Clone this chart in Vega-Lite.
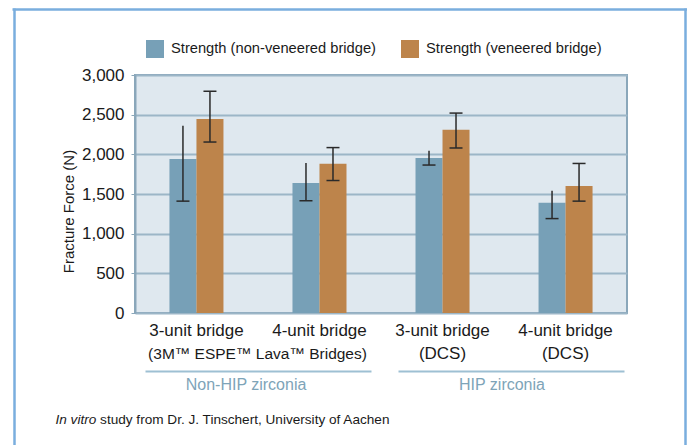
{
  "$schema": "https://vega.github.io/schema/vega-lite/v6.json",
  "width": 492,
  "height": 238,
  "autosize": "none",
  "padding": {"left": 135, "top": 75, "right": 60, "bottom": 132},
  "background": "white",
  "config": {
    "font": "Liberation Sans, Arial, sans-serif",
    "view": {"fill": "#dfe8ef", "stroke": "#8aa7ba", "strokeWidth": 2}
  },
  "data": {
    "values": [
      {"bridge": "3-unit bridge", "group": "Non-HIP zirconia", "series": "Strength (non-veneered bridge)", "value": 1940, "lo": 1410, "hi": 2360},
      {"bridge": "3-unit bridge", "group": "Non-HIP zirconia", "series": "Strength (veneered bridge)", "value": 2445, "lo": 2155, "hi": 2795},
      {"bridge": "4-unit bridge", "group": "Non-HIP zirconia", "series": "Strength (non-veneered bridge)", "value": 1640, "lo": 1415, "hi": 1890},
      {"bridge": "4-unit bridge", "group": "Non-HIP zirconia", "series": "Strength (veneered bridge)", "value": 1880, "lo": 1670, "hi": 2085},
      {"bridge": "3-unit bridge|(DCS)", "group": "HIP zirconia", "series": "Strength (non-veneered bridge)", "value": 1955, "lo": 1865, "hi": 2045},
      {"bridge": "3-unit bridge|(DCS)", "group": "HIP zirconia", "series": "Strength (veneered bridge)", "value": 2310, "lo": 2080, "hi": 2520},
      {"bridge": "4-unit bridge|(DCS)", "group": "HIP zirconia", "series": "Strength (non-veneered bridge)", "value": 1390, "lo": 1190, "hi": 1540},
      {"bridge": "4-unit bridge|(DCS)", "group": "HIP zirconia", "series": "Strength (veneered bridge)", "value": 1600, "lo": 1410, "hi": 1885}
    ]
  },
  "layer": [
    {
      "encoding": {
        "x": {
          "field": "bridge", "type": "nominal",
          "sort": ["3-unit bridge", "4-unit bridge", "3-unit bridge|(DCS)", "4-unit bridge|(DCS)"],
          "scale": {"paddingInner": 0.561, "paddingOuter": 0.28},
          "axis": {
            "title": "(3M™ ESPE™ Lava™ Bridges)", "titleX": 122, "titleY": 45, "titleAlign": "center", "titleBaseline": "alphabetic",
            "titleFontSize": 15.5, "titleFontWeight": "normal", "titleColor": "#1a1a1a",
            "labelExpr": "split(datum.value, '|')", "labelFontSize": 17, "labelLineHeight": 23, "labelPadding": 9,
            "labelColor": "#1a1a1a", "labelAngle": 0, "domain": false, "ticks": false
          }
        },
        "xOffset": {
          "field": "series", "type": "nominal",
          "sort": ["Strength (non-veneered bridge)", "Strength (veneered bridge)"],
          "scale": {"paddingInner": 0, "paddingOuter": 0}
        }
      },
      "layer": [
        {
          "mark": {"type": "bar"},
          "encoding": {
            "y": {
              "field": "value", "type": "quantitative",
              "scale": {"domain": [0, 3000], "nice": false},
              "axis": {
                "values": [0, 500, 1000, 1500, 2000, 2500, 3000], "format": ",.0f", "title": "Fracture Force (N)",
                "grid": true, "gridColor": "#9cb6c7", "gridWidth": 2, "domainColor": "#8aa7ba", "domainWidth": 2,
                "tickColor": "#8aa7ba", "tickSize": 4, "labelFontSize": 17, "labelColor": "#1a1a1a", "labelPadding": 7,
                "titleFontSize": 15, "titleFontWeight": "normal", "titlePadding": 5, "titleY": 136, "titleColor": "#1a1a1a"
              }
            },
            "color": {
              "field": "series", "type": "nominal",
              "scale": {"domain": ["Strength (non-veneered bridge)", "Strength (veneered bridge)"], "range": ["#77a0b7", "#bd844b"]},
              "legend": {
                "orient": "none", "legendX": 11, "legendY": -35, "direction": "horizontal", "title": null,
                "symbolType": "square", "symbolSize": 324, "symbolStrokeWidth": 0, "symbolOpacity": 1,
                "labelFontSize": 14.7, "labelOffset": 7, "labelLimit": 400, "columnPadding": 25, "padding": 0, "labelColor": "#1a1a1a"
              }
            }
          }
        },
        {
          "mark": {"type": "rule", "color": "#2a2a2a", "strokeWidth": 1.5},
          "encoding": {
            "y": {
              "field": "lo", "type": "quantitative", "scale": {"domain": [0, 3000], "nice": false},
              "axis": {
                "values": [0, 500, 1000, 1500, 2000, 2500, 3000], "format": ",.0f", "title": "Fracture Force (N)",
                "grid": true, "gridColor": "#9cb6c7", "gridWidth": 2, "domainColor": "#8aa7ba", "domainWidth": 2,
                "tickColor": "#8aa7ba", "tickSize": 4, "labelFontSize": 17, "labelColor": "#1a1a1a", "labelPadding": 7,
                "titleFontSize": 15, "titleFontWeight": "normal", "titlePadding": 5, "titleY": 136, "titleColor": "#1a1a1a"
              }
            },
            "y2": {"field": "hi"}
          }
        },
        {
          "mark": {"type": "tick", "color": "#2a2a2a", "thickness": 1.5, "size": 13, "opacity": 1},
          "encoding": {
            "y": {
              "field": "lo", "type": "quantitative", "scale": {"domain": [0, 3000], "nice": false},
              "axis": {
                "values": [0, 500, 1000, 1500, 2000, 2500, 3000], "format": ",.0f", "title": "Fracture Force (N)",
                "grid": true, "gridColor": "#9cb6c7", "gridWidth": 2, "domainColor": "#8aa7ba", "domainWidth": 2,
                "tickColor": "#8aa7ba", "tickSize": 4, "labelFontSize": 17, "labelColor": "#1a1a1a", "labelPadding": 7,
                "titleFontSize": 15, "titleFontWeight": "normal", "titlePadding": 5, "titleY": 136, "titleColor": "#1a1a1a"
              }
            }
          }
        },
        {
          "transform": [{"filter": "datum.series == 'Strength (veneered bridge)'"}],
          "mark": {"type": "tick", "color": "#2a2a2a", "thickness": 1.5, "size": 13, "opacity": 1},
          "encoding": {
            "y": {
              "field": "hi", "type": "quantitative", "scale": {"domain": [0, 3000], "nice": false},
              "axis": {
                "values": [0, 500, 1000, 1500, 2000, 2500, 3000], "format": ",.0f", "title": "Fracture Force (N)",
                "grid": true, "gridColor": "#9cb6c7", "gridWidth": 2, "domainColor": "#8aa7ba", "domainWidth": 2,
                "tickColor": "#8aa7ba", "tickSize": 4, "labelFontSize": 17, "labelColor": "#1a1a1a", "labelPadding": 7,
                "titleFontSize": 15, "titleFontWeight": "normal", "titlePadding": 5, "titleY": 136, "titleColor": "#1a1a1a"
              }
            }
          }
        }
      ]
    },
    {
      "mark": {"type": "bar", "opacity": 0},
      "encoding": {
        "x": {
          "field": "group", "type": "nominal", "sort": ["Non-HIP zirconia", "HIP zirconia"],
          "scale": {"paddingInner": 0.078, "paddingOuter": 0},
          "axis": {
            "orient": "bottom", "offset": 58, "domainDash": [226, 27], "domainDashOffset": 243,
            "domainColor": "#9ec0d3", "domainWidth": 2, "ticks": false,
            "labelFontSize": 16, "labelColor": "#7ea4b8", "labelPadding": 5, "labelOffset": -7, "labelAngle": 0,
            "title": "study from Dr. J. Tinschert, University of Aachen", "titleX": -35.4, "titleY": 52,
            "titleAlign": "left", "titleBaseline": "alphabetic", "titleFontSize": 13.6, "titleFontWeight": "normal", "titleColor": "#1a1a1a"
          }
        }
      }
    },
    {
      "mark": {"type": "point", "opacity": 0},
      "encoding": {
        "x": {
          "datum": 0, "type": "quantitative", "scale": {"domain": [0, 1], "range": [-123, 552]},
          "axis": {
            "orient": "top", "offset": 66, "domainColor": "#7aaede", "domainWidth": 2.5, "ticks": false, "labels": false, "grid": false,
            "title": "In vitro", "titleX": -80, "titleY": 414, "titleAlign": "left", "titleBaseline": "alphabetic",
            "titleFontStyle": "italic", "titleFontSize": 13.6, "titleFontWeight": "normal", "titleColor": "#1a1a1a"
          }
        },
        "y": {
          "datum": 0, "type": "quantitative", "scale": {"domain": [0, 1], "range": [-67, 420]},
          "axis": {"orient": "left", "offset": 121, "domainColor": "#7aaede", "domainWidth": 2.5, "ticks": false, "labels": false, "grid": false, "title": null}
        }
      }
    },
    {
      "mark": {"type": "point", "opacity": 0},
      "encoding": {
        "y": {
          "datum": 0, "type": "quantitative", "scale": {"domain": [0, 1], "range": [-67, 420]},
          "axis": {"orient": "right", "offset": 58, "domainColor": "#7aaede", "domainWidth": 2.5, "ticks": false, "labels": false, "grid": false, "title": null}
        }
      }
    }
  ],
  "resolve": {"scale": {"x": "independent", "y": "independent"}}
}
